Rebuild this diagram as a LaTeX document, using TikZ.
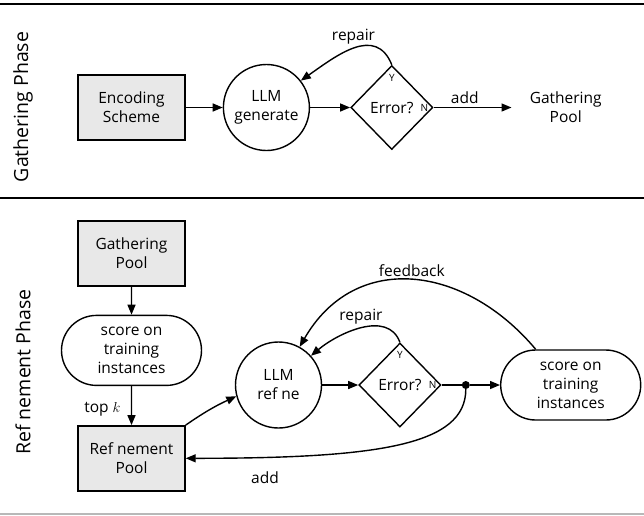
\documentclass[tikz,border=0pt]{standalone}
\usepackage{fontspec}
\setmainfont{Open Sans}
\usepackage{tikz}
\usetikzlibrary{shapes.geometric,shapes.misc,arrows.meta,positioning}

\begin{document}
\begin{tikzpicture}[x=1pt,y=-1pt,
      font=\fontsize{15.5}{19}\selectfont,
      box/.style={draw,line width=1.4pt,fill=gray!18,minimum width=107pt,
                  minimum height=65pt,align=center,inner sep=2pt},
      llm/.style={draw,circle,line width=1.4pt,minimum size=86pt,
                  align=center,inner sep=0pt},
      check/.style={draw,diamond,line width=1.4pt,minimum width=82pt,
                    minimum height=84pt,inner sep=0pt},
      pill/.style={draw,rounded rectangle,line width=1.4pt,minimum width=140pt,
                   minimum height=70pt,align=center,inner sep=0pt},
      pool/.style={minimum width=108pt,minimum height=40pt,align=center},
      tag/.style={font=\fontsize{10}{11}\selectfont,inner sep=0pt},
      phase/.style={rotate=90,font=\fontsize{19.5}{22}\selectfont},
      arr/.style={-{Triangle[length=10pt,width=8pt]},line width=1.4pt},
      line/.style={line width=1.4pt},
      rule/.style={line width=2pt},
  ]
  \useasboundingbox (0,0) rectangle (644,515);

  % Separators
  \draw[rule] (0,4) -- (644,4);
  \draw[rule] (0,197.5) -- (644,197.5);
  \draw[rule,black!28] (0,513.5) -- (644,513.5);

  % Gathering phase
  \node[phase] (ph1) at (23,107) {Gathering Phase};
  \node[box] (enc) at (131.5,107.5) {Encoding\\Scheme};
  \node[llm,right=37pt of enc] (gen) {LLM\\generate};
  \node[check,right=40pt of gen] (err1) {Error?};
  \node[tag] (y1) at ([yshift=-13pt]err1.north) {Y};
  \node[tag] (n1) at ([xshift=-9pt]err1.east) {N};
  \node[pool,right=78pt of err1] (gpool1) {Gathering\\Pool};

  \draw[arr] (enc) -- (gen);
  \draw[arr] (gen) -- (err1);
  \draw[arr] (err1) -- node[above,pos=0.4]{add} (gpool1);
  \draw[arr] (err1.north) to[out=112,in=35,looseness=1.2] node[above]{repair} (gen.38);

  % Refinement phase
  \node[phase] (ph2) at (23,372) {Ref nement Phase};
  \node[box] (gpool2) at (131.5,253.5) {Gathering\\Pool};
  \node[pill,below=28pt of gpool2] (score1) {score on\\training\\instances};
  \node[box,below=39pt of score1] (rpool) {Ref nement\\Pool};
  \node[llm] (ref) at (278.5,385) {LLM\\ref ne};
  \node[check,right=36pt of ref] (err2) {Error?};
  \node[tag] (y2) at ([yshift=-13pt]err2.north) {Y};
  \node[tag] (n2) at ([xshift=-9pt]err2.east) {N};
  \node[circle,fill,inner sep=0pt,minimum size=8pt,right=20pt of err2] (dot) {};
  \node[pill,right=30pt of dot] (score2) {score on\\training\\instances};

  \draw[arr] (gpool2) -- (score1);
  \draw[arr] (score1) -- node[left=7pt,pos=0.6]{top $k$} (rpool);
  \draw[arr] (rpool.north east) to[bend left=5] (ref.195);
  \draw[arr] (ref) -- (err2);
  \draw[line] (err2) -- (dot);
  \draw[arr] (dot) -- (score2);
  \draw[arr] (err2.north) to[out=110,in=40] node[above]{repair} (ref.42);
  \draw[arr] ([xshift=-35pt]score2.north) to[out=130,in=60,looseness=1.2]
    node[above]{feedback} (ref.61);
  \draw[arr] (dot) to[out=-90,in=0,out looseness=0.5,in looseness=1.7]
    node[below=10pt,pos=0.85]{add} (rpool.east);
\end{tikzpicture}
\end{document}
